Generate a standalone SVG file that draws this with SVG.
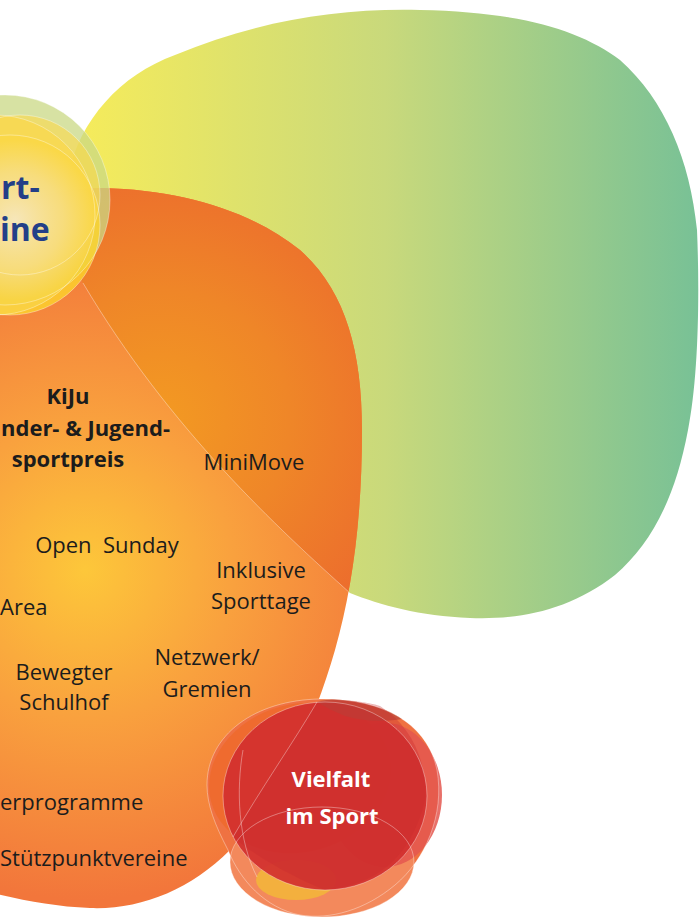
<svg xmlns="http://www.w3.org/2000/svg" width="699" height="919" viewBox="0 0 699 919">
  <defs>
    <linearGradient id="gGreen" gradientUnits="userSpaceOnUse" x1="70" y1="0" x2="699" y2="0">
      <stop offset="0" stop-color="#f7ec5a"/>
      <stop offset="0.5" stop-color="#c9d97b"/>
      <stop offset="1" stop-color="#78c196"/>
    </linearGradient>
    <radialGradient id="gOrange" gradientUnits="userSpaceOnUse" cx="85" cy="570" r="330">
      <stop offset="0" stop-color="#fdc73a"/>
      <stop offset="0.45" stop-color="#f9a13e"/>
      <stop offset="1" stop-color="#f2763b"/>
    </radialGradient>
    <radialGradient id="gOverlap" gradientUnits="userSpaceOnUse" cx="160" cy="420" r="260">
      <stop offset="0" stop-color="#f39a22"/>
      <stop offset="0.5" stop-color="#ef8628"/>
      <stop offset="1" stop-color="#ec6c2d"/>
    </radialGradient>
    <radialGradient id="gHi" gradientUnits="userSpaceOnUse" cx="15" cy="220" r="80">
      <stop offset="0" stop-color="#f6e7c0" stop-opacity="0.95"/>
      <stop offset="0.6" stop-color="#f5e0a0" stop-opacity="0.6"/>
      <stop offset="1" stop-color="#f5e0a0" stop-opacity="0"/>
    </radialGradient>
    <path id="orangeShape" d="M103,188 C180,190 250,210 300,250 C345,290 362,350 362,430 C362,520 352,590 335,650 C315,720 280,800 230,850 C190,890 140,910 90,908 C40,906 0,895 -60,880 L-150,600 L-100,300 C-60,220 20,190 103,188 Z"/>
    <clipPath id="clipOrange"><use href="#orangeShape"/></clipPath>
    <path id="greenShape" d="M68,175 C80,120 120,75 175,55 C260,20 340,8 420,10 C520,12 580,30 620,60 C665,100 690,160 697,230 C700,300 698,380 688,430 C675,500 650,545 615,575 C570,610 520,620 470,618 C420,616 380,605 350,593 C280,530 170,430 83,283 C70,260 64,210 68,175 Z"/>
    <path id="vOuter" d="M207,785 C207,735 255,700 320,699 C385,698 428,725 437,770 C445,815 425,860 395,885 C365,910 330,920 300,915 C265,908 240,880 228,850 C215,825 207,805 207,785 Z"/>
    <clipPath id="clipV"><use href="#vOuter"/></clipPath>
    <style>
      .lbl { font-family: "Open Sans", "Noto Sans", sans-serif; font-size: 22px; fill: #1c1c1c; text-anchor: middle; }
      .bold { font-family: "Open Sans", "Noto Sans", sans-serif; font-size: 22px; font-weight: 700; fill: #1c1c1c; text-anchor: middle; }
      .white { font-family: "Open Sans", "Noto Sans", sans-serif; font-size: 22px; font-weight: 700; fill: #ffffff; text-anchor: middle; }
      .blue { font-family: "Open Sans", "Noto Sans", sans-serif; font-size: 32px; font-weight: 700; fill: #233f88; }
      .edge { fill: none; stroke: #ffffff; stroke-opacity: 0.45; stroke-width: 0.8; }
    </style>
  </defs>

  <rect width="699" height="919" fill="#ffffff"/>

  <g id="node-green">
    <use href="#greenShape" fill="url(#gGreen)"/>
  </g>

  <g id="node-orange">
    <use href="#orangeShape" fill="url(#gOrange)"/>
    <g clip-path="url(#clipOrange)">
      <use href="#greenShape" fill="url(#gOverlap)"/>
      <path class="edge" d="M350,593 C280,530 170,430 83,283"/>
    </g>
  </g>

  <g id="node-sportvereine">
    <circle cx="5" cy="200" r="105" fill="#c9d884" fill-opacity="0.75"/>
    <circle cx="10" cy="225" r="90" fill="#fcd42c" fill-opacity="0.8"/>
    <circle cx="-5" cy="215" r="100" fill="#f9d648" fill-opacity="0.7"/>
    <circle cx="20" cy="195" r="80" fill="#fcd94a" fill-opacity="0.6"/>
    <circle cx="15" cy="220" r="80" fill="url(#gHi)"/>
    <circle class="edge" cx="5" cy="200" r="105"/>
    <circle class="edge" cx="10" cy="225" r="90"/>
    <circle class="edge" cx="-5" cy="215" r="100"/>
    <circle class="edge" cx="20" cy="195" r="80"/>
    <text class="blue" x="1" y="199">rt-</text>
    <text class="blue" x="0" y="241">ine</text>
  </g>

  <g id="node-vielfalt">
    <use href="#vOuter" fill="#ef7242"/>
    <ellipse cx="322" cy="862" rx="92" ry="55" fill="#f3895c"/>
    <ellipse cx="296" cy="880" rx="40" ry="20" fill="#f3b03e"/>
    <ellipse cx="385" cy="795" rx="57" ry="72" fill="#e4574f" fill-opacity="0.85"/>
    <ellipse cx="300" cy="778" rx="92" ry="74" transform="rotate(-15 300 778)" fill="#ee6a2e" fill-opacity="0.9"/>
    <ellipse cx="325" cy="796" rx="102" ry="94" fill="#d3302f" fill-opacity="0.92"/>
    <path clip-path="url(#clipV)" d="M317,702 C350,694 390,695 420,712 C405,722 372,724 345,716 C335,712 325,707 317,702 Z" fill="#b8453a" fill-opacity="0.7"/>
    <path d="M317,702 C295,740 260,790 233,837 C260,860 300,880 325,890 C375,885 410,860 425,800 C428,760 410,725 380,706 C360,700 335,699 317,702 Z" fill="#c92c2d" fill-opacity="0.35"/>
    <use href="#vOuter" class="edge"/>
    <ellipse class="edge" cx="325" cy="796" rx="102" ry="94"/>
    <ellipse class="edge" cx="322" cy="862" rx="92" ry="55"/>
    <path class="edge" d="M317,702 C295,740 260,790 233,837"/>
    <path class="edge" d="M243,750 C236,790 238,840 257,877"/>
    <text class="white" x="331" y="787">Vielfalt</text>
    <text class="white" x="332" y="824">im Sport</text>
  </g>

  <g id="labels">
    <g id="label-kiju">
      <text class="bold" x="68" y="404">KiJu</text>
      <text class="bold" x="1" y="436" style="text-anchor:start">nder- &amp; Jugend-</text>
      <text class="bold" x="68" y="467">sportpreis</text>
    </g>
    <g id="label-minimove"><text class="lbl" x="254" y="470">MiniMove</text></g>
    <g id="label-opensunday"><text class="lbl" x="107" y="553" xml:space="preserve">Open  Sunday</text></g>
    <g id="label-inklusive">
      <text class="lbl" x="261" y="578">Inklusive</text>
      <text class="lbl" x="261" y="609">Sporttage</text>
    </g>
    <g id="label-area"><text class="lbl" x="0" y="615" style="text-anchor:start">Area</text></g>
    <g id="label-schulhof">
      <text class="lbl" x="64" y="680">Bewegter</text>
      <text class="lbl" x="64" y="710">Schulhof</text>
    </g>
    <g id="label-netzwerk">
      <text class="lbl" x="207" y="665">Netzwerk/</text>
      <text class="lbl" x="207" y="697">Gremien</text>
    </g>
    <g id="label-programme"><text class="lbl" x="0" y="810" style="text-anchor:start">erprogramme</text></g>
    <g id="label-stuetzpunkt"><text class="lbl" x="0" y="866" style="text-anchor:start">Stützpunktvereine</text></g>
  </g>

  <g id="connectors"/>
</svg>
